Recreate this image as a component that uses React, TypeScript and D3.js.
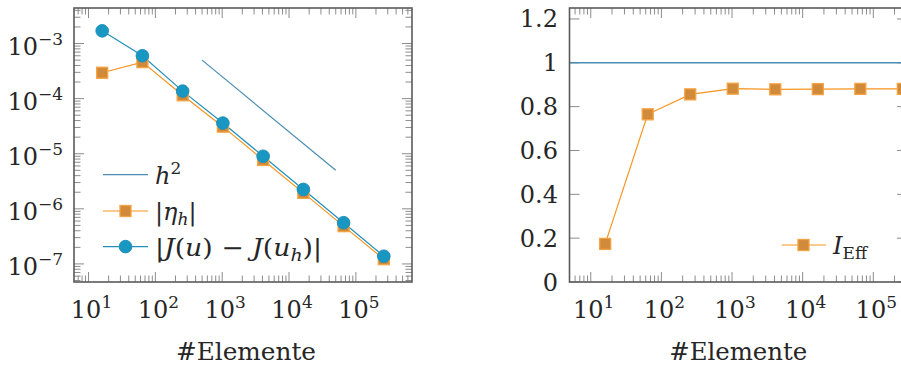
import * as d3 from "d3";

// Convergence study: number of elements vs. error / estimator / efficiency index
const ELEMENTS = [16, 64, 256, 1024, 4096, 16384, 65536, 262144];
const ERR_J = [1.7e-3, 6.0e-4, 1.37e-4, 3.6e-5, 9.0e-6, 2.25e-6, 5.6e-7, 1.38e-7];
const ETA_H = [2.95e-4, 4.6e-4, 1.15e-4, 3.1e-5, 7.7e-6, 1.95e-6, 4.85e-7, 1.22e-7];
const H2_X = [500, 50000];
const H2_Y = [5e-4, 5e-6];
const I_EFF = [0.174, 0.765, 0.856, 0.882, 0.879, 0.88, 0.881, 0.881];
const REF_X = [5, 3e5];
const REF_Y = [1, 1];
const RIGHT_Y_TICKS = [0, 0.2, 0.4, 0.6, 0.8, 1, 1.2];
const RIGHT_Y_MAX = 1.25;

const W = 901;
const H = 367;
const LEFT = { x0: 74, x1: 412, y0: 8, y1: 282 };
const RIGHT = { x0: 569.5, x1: 907, y0: 8, y1: 282 };

const FONT = "DejaVu Serif, serif";
const FS = 24;
const FS_SUP = 17;
const TXT = "#262626";
const AXIS = "#5a5a5a";
const TICK = "#8c8c8c";
const BLUE_REF = "#4a8db0";
const BLUE = "#2190ba";
const BLUE_FILL = "#1797c2";
const ORANGE = "#f7941e";
const ORANGE_FILL = "#d08a3a";
const ORANGE_EDGE = "#f6a343";

const MAJOR = 10;
const MINOR = 6.5;

// pgfplots-style "enlarge limits" (10% of the log range on each side)
function enlargeLog(vals: number[]): [number, number] {
  const lo = Math.log10(d3.min(vals) ?? 1);
  const hi = Math.log10(d3.max(vals) ?? 10);
  const pad = (hi - lo) * 0.1;
  return [Math.pow(10, lo - pad), Math.pow(10, hi + pad)];
}

const isDecade = (v: number) => Math.abs(Math.log10(v) - Math.round(Math.log10(v))) < 1e-9;

function Pow({ x, y, exp, anchor }: { x: number; y: number; exp: number; anchor: "end" | "middle" }) {
  return (
    <text x={x} y={y} textAnchor={anchor} fontFamily={FONT} fontSize={FS} fill={TXT}>
      10
      <tspan dy={-10} fontSize={FS_SUP}>{exp < 0 ? `\u2212${-exp}` : exp}</tspan>
    </text>
  );
}

function LogTicksX({ sx, box }: { sx: d3.ScaleLogarithmic<number, number>; box: typeof LEFT }) {
  const [d0, d1] = sx.domain();
  const ticks = sx.ticks().filter((t) => t >= d0 * 0.999 && t <= d1 * 1.001);
  return (
    <g>
      {ticks.map((t) => {
        const len = isDecade(t) ? MAJOR : MINOR;
        const x = sx(t);
        return (
          <g key={`xt${t}`}>
            <line x1={x} x2={x} y1={box.y1} y2={box.y1 - len} stroke={TICK} strokeWidth={1} />
            <line x1={x} x2={x} y1={box.y0} y2={box.y0 + len} stroke={TICK} strokeWidth={1} />
          </g>
        );
      })}
      {ticks.filter(isDecade).map((t) => (
        <Pow key={`xl${t}`} x={sx(t) + 3} y={box.y1 + 36} exp={Math.round(Math.log10(t))} anchor="middle" />
      ))}
    </g>
  );
}

function Marker({ kind, x, y }: { kind: "square" | "circle"; x: number; y: number }) {
  if (kind === "square") {
    return <rect x={x - 5.5} y={y - 5.5} width={11} height={11} fill={ORANGE_FILL} stroke={ORANGE_EDGE} strokeWidth={1.3} />;
  }
  return <circle cx={x} cy={y} r={6.3} fill={BLUE_FILL} stroke={BLUE} strokeWidth={1} />;
}

export default function App() {
  // ---- left panel: log-log convergence ----
  const lx = d3.scaleLog().domain(enlargeLog(ELEMENTS)).range([LEFT.x0, LEFT.x1]);
  const ly = d3.scaleLog().domain(enlargeLog([...ERR_J, ...ETA_H, ...H2_Y])).range([LEFT.y1, LEFT.y0]);
  const lyDom = ly.domain();
  const lyTicks = ly.ticks().filter((t) => t >= lyDom[0] && t <= lyDom[1]);

  const lineL = d3.line<[number, number]>().x((d) => lx(d[0])).y((d) => ly(d[1]));
  const etaPts = ELEMENTS.map((n, i) => [n, ETA_H[i]] as [number, number]);
  const errPts = ELEMENTS.map((n, i) => [n, ERR_J[i]] as [number, number]);
  const h2Pts = H2_X.map((n, i) => [n, H2_Y[i]] as [number, number]);

  // ---- right panel: efficiency index ----
  const rx = d3.scaleLog().domain(REF_X).range([RIGHT.x0, RIGHT.x1]);
  const ry = d3.scaleLinear().domain([0, RIGHT_Y_MAX]).range([RIGHT.y1, RIGHT.y0]);
  const lineR = d3.line<[number, number]>().x((d) => rx(d[0])).y((d) => ry(d[1]));
  const effPts = ELEMENTS.map((n, i) => [n, I_EFF[i]] as [number, number]);
  const refPts = REF_X.map((n, i) => [n, REF_Y[i]] as [number, number]);

  const legL = [
    { y: 174.7, kind: null, color: BLUE_REF },
    { y: 211, kind: "square", color: ORANGE },
    { y: 246.6, kind: "circle", color: BLUE },
  ] as const;

  return (
    <div style={{ position: "absolute", left: 0, top: 0, width: W, height: H, overflow: "hidden" }}>
      <style>{`body{margin:0;overflow:hidden}`}</style>
      <svg width={W} height={H} style={{ display: "block", background: "#fff" }}>
        {/* ===== left panel ===== */}
        <defs>
          <clipPath id="clipL">
            <rect x={LEFT.x0} y={LEFT.y0} width={LEFT.x1 - LEFT.x0} height={LEFT.y1 - LEFT.y0} />
          </clipPath>
        </defs>

        {/* y ticks (left + mirrored right) */}
        {lyTicks.map((t) => {
          const len = isDecade(t) ? MAJOR : MINOR;
          const y = ly(t);
          return (
            <g key={`ly${t}`}>
              <line x1={LEFT.x0} x2={LEFT.x0 + len} y1={y} y2={y} stroke={TICK} strokeWidth={1} />
              <line x1={LEFT.x1} x2={LEFT.x1 - len} y1={y} y2={y} stroke={TICK} strokeWidth={1} />
            </g>
          );
        })}
        {lyTicks.filter(isDecade).map((t) => (
          <Pow key={`lyl${t}`} x={63} y={ly(t) + 11.5} exp={Math.round(Math.log10(t))} anchor="end" />
        ))}
        <LogTicksX sx={lx} box={LEFT} />

        <g clipPath="url(#clipL)" fill="none">
          <path d={lineL(h2Pts) ?? ""} stroke={BLUE_REF} strokeWidth={1.2} />
          <path d={lineL(etaPts) ?? ""} stroke={ORANGE} strokeWidth={1.2} />
          <path d={lineL(errPts) ?? ""} stroke={BLUE} strokeWidth={1.2} />
        </g>
        {etaPts.map((d) => <Marker key={`e${d[0]}`} kind="square" x={lx(d[0])} y={ly(d[1])} />)}
        {errPts.map((d) => <Marker key={`j${d[0]}`} kind="circle" x={lx(d[0])} y={ly(d[1])} />)}

        <rect x={LEFT.x0} y={LEFT.y0} width={LEFT.x1 - LEFT.x0} height={LEFT.y1 - LEFT.y0}
          fill="none" stroke={AXIS} strokeWidth={1.6} />

        {/* legend */}
        {legL.map((e, i) => (
          <g key={`lg${i}`}>
            <line x1={103} x2={148} y1={e.y} y2={e.y} stroke={e.color} strokeWidth={1.2} />
            {e.kind && <Marker kind={e.kind} x={125.5} y={e.y} />}
          </g>
        ))}
        <text x={155} y={legL[0].y + 9} fontFamily={FONT} fontSize={FS} fill={TXT}>
          <tspan fontStyle="italic">h</tspan>
          <tspan dy={-10} fontSize={FS_SUP}>2</tspan>
        </text>
        <text x={155} y={legL[1].y + 9} fontFamily={FONT} fontSize={FS} fill={TXT}>
          |<tspan fontStyle="italic">η</tspan>
          <tspan dy={5} fontSize={FS_SUP} fontStyle="italic">h</tspan>
          <tspan dy={-5}>|</tspan>
        </text>
        <text x={155} y={legL[2].y + 9} fontFamily={FONT} fontSize={FS} fill={TXT}
          textLength={167} lengthAdjust="spacingAndGlyphs">
          |<tspan fontStyle="italic">J</tspan>(<tspan fontStyle="italic">u</tspan>) − <tspan fontStyle="italic">J</tspan>(<tspan fontStyle="italic">u</tspan>
          <tspan dy={5} fontSize={FS_SUP} fontStyle="italic">h</tspan>
          <tspan dy={-5}>)|</tspan>
        </text>

        <text x={(LEFT.x0 + LEFT.x1) / 2 + 3} y={360} textAnchor="middle" fontFamily={FONT}
          fontSize={FS} fill={TXT} textLength={140} lengthAdjust="spacingAndGlyphs">#Elemente</text>

        {/* ===== right panel ===== */}
        {RIGHT_Y_TICKS.map((t) => {
          const y = ry(t);
          return (
            <g key={`ry${t}`}>
              <line x1={RIGHT.x0} x2={RIGHT.x0 + MAJOR} y1={y} y2={y} stroke={TICK} strokeWidth={1} />
              <line x1={RIGHT.x1} x2={RIGHT.x1 - MAJOR} y1={y} y2={y} stroke={TICK} strokeWidth={1} />
              <text x={558} y={y + 8.5} textAnchor="end" fontFamily={FONT} fontSize={FS} fill={TXT}>
                {String(t)}
              </text>
            </g>
          );
        })}
        <LogTicksX sx={rx} box={RIGHT} />

        <path d={lineR(refPts) ?? ""} fill="none" stroke={BLUE_REF} strokeWidth={1.4} />
        <path d={lineR(effPts) ?? ""} fill="none" stroke={ORANGE} strokeWidth={1.2} />
        {effPts.map((d) => <Marker key={`i${d[0]}`} kind="square" x={rx(d[0])} y={ry(d[1])} />)}

        <rect x={RIGHT.x0} y={RIGHT.y0} width={RIGHT.x1 - RIGHT.x0} height={RIGHT.y1 - RIGHT.y0}
          fill="none" stroke={AXIS} strokeWidth={1.6} />

        {/* legend */}
        <line x1={781.7} x2={826} y1={245} y2={245} stroke={ORANGE} strokeWidth={1.2} />
        <Marker kind="square" x={803.5} y={245} />
        <text x={833} y={254} fontFamily={FONT} fontSize={FS} fill={TXT}>
          <tspan fontStyle="italic">I</tspan>
          <tspan dy={5} fontSize={FS_SUP}>Eff</tspan>
        </text>

        <text x={(RIGHT.x0 + RIGHT.x1) / 2} y={360} textAnchor="middle" fontFamily={FONT}
          fontSize={FS} fill={TXT} textLength={138} lengthAdjust="spacingAndGlyphs">#Elemente</text>
      </svg>
    </div>
  );
}
